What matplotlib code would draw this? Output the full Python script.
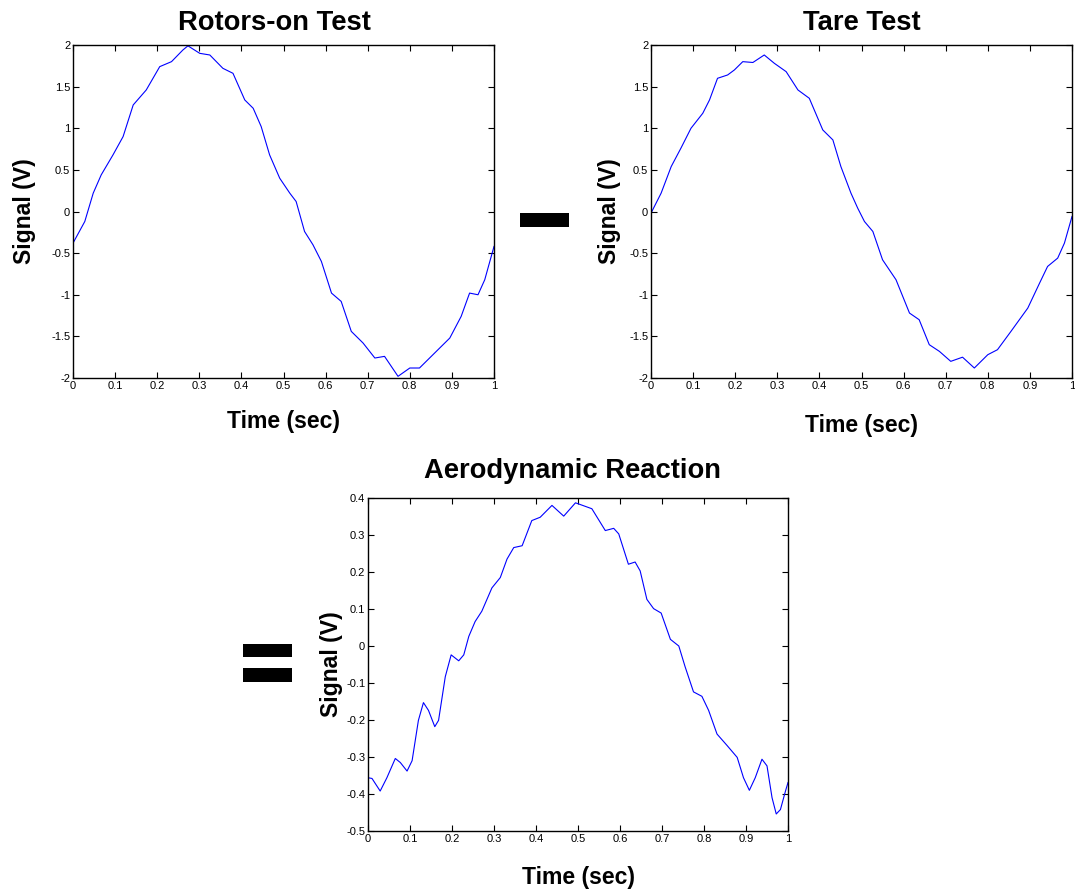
import matplotlib
matplotlib.use('Agg')
import matplotlib.pyplot as plt
from matplotlib.patches import Rectangle

plt.rcParams['font.family'] = ['Liberation Sans', 'DejaVu Sans']

# 读取图中的数据点 (时间, 电压)
t_rotors = [0.0, 0.028, 0.048, 0.067, 0.095, 0.119, 0.143, 0.174, 0.206, 0.234, 0.261, 0.273,
            0.301, 0.325, 0.356, 0.380, 0.408, 0.428, 0.447, 0.467, 0.491, 0.515, 0.530, 0.550,
            0.570, 0.590, 0.614, 0.637, 0.661, 0.689, 0.717, 0.740, 0.772, 0.800, 0.823, 0.851,
            0.895, 0.922, 0.942, 0.962, 0.978, 1.0]
v_rotors = [-0.38, -0.12, 0.22, 0.44, 0.68, 0.90, 1.28, 1.46, 1.74, 1.80, 1.94, 1.99,
            1.90, 1.88, 1.72, 1.66, 1.34, 1.24, 1.02, 0.68, 0.40, 0.22, 0.12, -0.24,
            -0.40, -0.60, -0.98, -1.08, -1.44, -1.58, -1.76, -1.74, -1.98, -1.88, -1.88, -1.74,
            -1.52, -1.26, -0.98, -1.00, -0.82, -0.42]

t_tare = [0.0, 0.024, 0.048, 0.071, 0.095, 0.123, 0.139, 0.158, 0.182, 0.198, 0.218, 0.242,
          0.269, 0.293, 0.321, 0.349, 0.376, 0.408, 0.432, 0.451, 0.475, 0.491, 0.507, 0.527,
          0.550, 0.582, 0.614, 0.637, 0.661, 0.685, 0.712, 0.740, 0.768, 0.800, 0.823, 0.855,
          0.895, 0.923, 0.942, 0.966, 0.982, 1.0]
v_tare = [-0.02, 0.22, 0.54, 0.76, 1.00, 1.18, 1.34, 1.60, 1.64, 1.70, 1.80, 1.79,
          1.88, 1.78, 1.68, 1.46, 1.36, 0.98, 0.86, 0.54, 0.22, 0.04, -0.12, -0.24,
          -0.58, -0.82, -1.22, -1.30, -1.60, -1.68, -1.80, -1.75, -1.88, -1.72, -1.66, -1.44,
          -1.16, -0.86, -0.66, -0.56, -0.38, -0.06]

t_aero = [0.0, 0.0095, 0.029, 0.045, 0.065, 0.077, 0.093, 0.105, 0.120, 0.132, 0.144, 0.159,
          0.168, 0.184, 0.198, 0.216, 0.228, 0.240, 0.255, 0.271, 0.295, 0.315, 0.331, 0.347,
          0.367, 0.390, 0.410, 0.438, 0.466, 0.494, 0.533, 0.565, 0.585, 0.597, 0.620, 0.636,
          0.648, 0.664, 0.680, 0.698, 0.720, 0.740, 0.755, 0.775, 0.795, 0.811, 0.831, 0.855,
          0.879, 0.894, 0.908, 0.922, 0.938, 0.950, 0.962, 0.972, 0.982, 0.994, 1.0]
v_aero = [-0.356, -0.358, -0.392, -0.356, -0.304, -0.315, -0.338, -0.310, -0.201, -0.153, -0.174, -0.218,
          -0.201, -0.083, -0.024, -0.040, -0.024, 0.026, 0.066, 0.094, 0.157, 0.185, 0.235, 0.266,
          0.271, 0.339, 0.348, 0.380, 0.351, 0.387, 0.371, 0.312, 0.318, 0.303, 0.221, 0.227,
          0.203, 0.126, 0.101, 0.089, 0.018, 0.000, -0.056, -0.124, -0.136, -0.174, -0.238, -0.269,
          -0.301, -0.356, -0.390, -0.356, -0.306, -0.324, -0.410, -0.454, -0.442, -0.392, -0.369]

x_ticks = [0, 0.1, 0.2, 0.3, 0.4, 0.5, 0.6, 0.7, 0.8, 0.9, 1]
x_labels = ['0', '0.1', '0.2', '0.3', '0.4', '0.5', '0.6', '0.7', '0.8', '0.9', '1']
y_ticks_top = [-2, -1.5, -1, -0.5, 0, 0.5, 1, 1.5, 2]
y_labels_top = ['-2', '-1.5', '-1', '-0.5', '0', '0.5', '1', '1.5', '2']
y_ticks_aero = [-0.5, -0.4, -0.3, -0.2, -0.1, 0, 0.1, 0.2, 0.3, 0.4]
y_labels_aero = ['-0.5', '-0.4', '-0.3', '-0.2', '-0.1', '0', '0.1', '0.2', '0.3', '0.4']

fig = plt.figure(figsize=(10.75, 8.94), dpi=100)
W, H = 1075, 894


def make_axes(l, r, top, bot):
    return fig.add_axes([l / W, 1 - bot / H, (r - l) / W, (bot - top) / H])


def style(ax, t, v, title, yt, yl, ylim, xlabpad, ylabpad, tpad, tx):
    ax.plot(t, v, color='#0000ff', linewidth=0.8, solid_joinstyle='round')
    ax.set_xlim(0, 1)
    ax.set_ylim(*ylim)
    ax.set_xticks(x_ticks)
    ax.set_xticklabels(x_labels)
    ax.set_yticks(yt)
    ax.set_yticklabels(yl)
    ax.tick_params(direction='in', top=True, right=True, length=4, width=0.8,
                   labelsize=8, pad=2)
    for s in ax.spines.values():
        s.set_linewidth(1.0)
    ax.set_title(title, fontsize=19.7, fontweight='bold', pad=tpad, x=tx)
    ax.set_xlabel('Time (sec)', fontsize=16.6, fontweight='bold', labelpad=xlabpad)
    ax.set_ylabel('Signal (V)', fontsize=16.6, fontweight='bold', labelpad=ylabpad)


ax1 = make_axes(73, 494, 45, 378)
style(ax1, t_rotors, v_rotors, 'Rotors-on Test', y_ticks_top, y_labels_top, (-2, 2),
      13.5, 11, 10.5, 0.478)

ax2 = make_axes(651, 1072, 45, 378)
style(ax2, t_tare, v_tare, 'Tare Test', y_ticks_top, y_labels_top, (-2, 2),
      16.5, 6, 10.5, 0.5)

ax3 = make_axes(368, 788, 498, 831)
style(ax3, t_aero, v_aero, 'Aerodynamic Reaction', y_ticks_aero, y_labels_aero, (-0.5, 0.4),
      16, 2, 14.5, 0.487)

# 减号和等号
for (x0, x1, y0, y1) in [(520, 569, 213, 227), (243, 292, 644, 657), (243, 292, 668, 682)]:
    fig.patches.append(Rectangle((x0 / W, 1 - y1 / H), (x1 - x0) / W, (y1 - y0) / H,
                                 transform=fig.transFigure, facecolor='black',
                                 edgecolor='none'))

fig.savefig('out.png', dpi=100)
